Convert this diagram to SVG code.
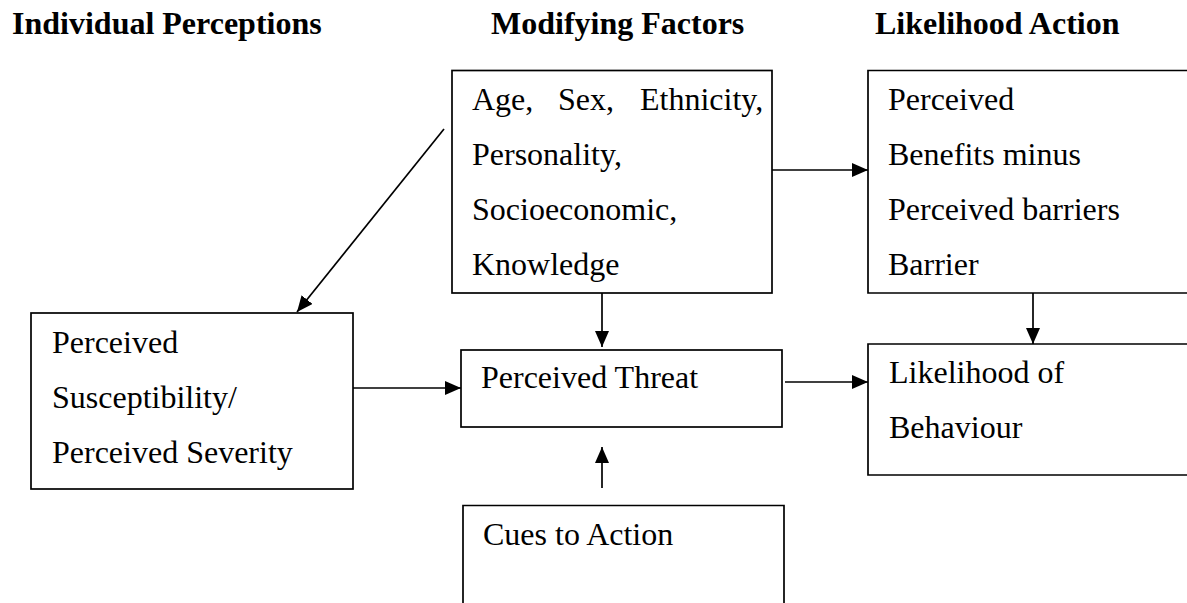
<svg xmlns="http://www.w3.org/2000/svg" width="1187" height="603" viewBox="0 0 1187 603">
<style>
.hd{font-family:"Liberation Serif","Times New Roman",serif;font-weight:bold;font-size:32px;fill:#000}
.t{font-family:"Liberation Serif","Times New Roman",serif;font-size:32px;fill:#000}
.box{fill:none;stroke:#000;stroke-width:1.7}
.ln{fill:none;stroke:#000;stroke-width:1.7}
</style>
<defs>
<marker id="ah2" viewBox="0 0 16 14" refX="16" refY="7" markerWidth="16" markerHeight="14" markerUnits="userSpaceOnUse" orient="auto">
<path d="M0,0 L16,7 L0,14 z" fill="#000"/>
</marker>
</defs>
<rect width="1187" height="603" fill="#fff"/>
<g id="headers">
<text class="hd" x="12" y="34">Individual Perceptions</text>
<text class="hd" x="491" y="34">Modifying Factors</text>
<text class="hd" x="875" y="34">Likelihood Action</text>
</g>
<g id="modifying">
<rect class="box" x="452" y="70.5" width="320" height="222.5"/>
<text class="t" y="110"><tspan x="472">Age,</tspan><tspan x="558">Sex,</tspan><tspan x="640">Ethnicity,</tspan></text>
<text class="t" x="472" y="165">Personality,</text>
<text class="t" x="472" y="220">Socioeconomic,</text>
<text class="t" x="472" y="275">Knowledge</text>
</g>
<g id="benefits">
<path class="box" d="M1190,70.5 H868 V293 H1190"/>
<text class="t" x="888" y="110">Perceived</text>
<text class="t" x="888" y="165">Benefits minus</text>
<text class="t" x="888" y="220">Perceived barriers</text>
<text class="t" x="888" y="275">Barrier</text>
</g>
<g id="susceptibility">
<rect class="box" x="31" y="313" width="322" height="176"/>
<text class="t" x="52" y="353">Perceived</text>
<text class="t" x="52" y="408">Susceptibility/</text>
<text class="t" x="52" y="463">Perceived Severity</text>
</g>
<g id="threat">
<rect class="box" x="461" y="350" width="321" height="77"/>
<text class="t" x="481" y="388">Perceived Threat</text>
</g>
<g id="likelihood">
<path class="box" d="M1190,344 H868 V475 H1190"/>
<text class="t" x="889" y="383">Likelihood of</text>
<text class="t" x="889" y="438">Behaviour</text>
</g>
<g id="cues">
<path class="box" d="M463,606 V505.5 H784 V606"/>
<text class="t" x="483" y="545">Cues to Action</text>
</g>
<g id="connectors">
<line class="ln" x1="444" y1="129" x2="297" y2="312" marker-end="url(#ah2)"/>
<line class="ln" x1="602" y1="293" x2="602" y2="347" marker-end="url(#ah2)"/>
<line class="ln" x1="353" y1="388" x2="461" y2="388" marker-end="url(#ah2)"/>
<line class="ln" x1="602" y1="488" x2="602" y2="447" marker-end="url(#ah2)"/>
<line class="ln" x1="772" y1="170" x2="868" y2="170" marker-end="url(#ah2)"/>
<line class="ln" x1="785" y1="382" x2="868" y2="382" marker-end="url(#ah2)"/>
<line class="ln" x1="1033" y1="293" x2="1033" y2="344" marker-end="url(#ah2)"/>
</g>
</svg>
